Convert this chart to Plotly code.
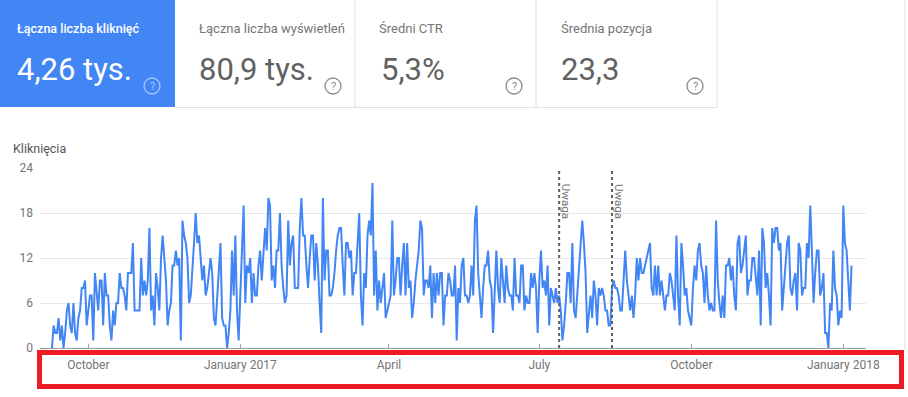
import pandas as pd
import plotly.graph_objects as go

# ---- data (daily clicks, in 5 consecutive stretches) ----
seg_starts = ["2016-09-09", "2016-12-14", "2017-03-24", "2017-07-02", "2017-10-10"]
seg1 = [0, 3, 2, 2, 4, 1, 3, 0, 2, 5, 6, 3, 2, 6, 2, 1, 4, 5, 8, 8, 9, 3, 5, 7, 7, 1, 10, 7, 5, 9,
        9, 3, 10, 7, 7, 3, 1, 5, 3, 6, 6, 10, 8, 8, 7, 5, 10, 10, 10, 14, 5, 5, 5, 5, 12, 7, 9, 7, 9, 16,
        5, 7, 3, 10, 8, 5, 12, 15, 12, 9, 3, 5, 6, 11, 11, 13, 11, 12, 1, 17, 15, 14, 12, 6, 7, 10, 14, 18, 14, 15,
        12, 9, 11, 7, 8]
seg2 = [12, 10, 4, 3, 7, 11, 14, 4, 3, 3, 0, 2, 5, 13, 7, 15, 5, 1, 7, 13, 19, 6, 11, 10, 12, 6, 10, 7, 7, 11,
        13, 9, 13, 16, 13, 20, 19, 9, 11, 8, 13, 13, 18, 11, 8, 6, 7, 17, 11, 14, 15, 8, 8, 8, 16, 20, 15, 15, 11, 8,
        12, 15, 15, 9, 14, 11, 6, 2, 20, 9, 13, 13, 7, 7, 8, 10, 13, 15, 16, 16, 11, 7, 14, 14, 12, 13, 7, 10, 10, 14,
        18, 7, 3, 10, 8, 15, 17, 15, 22, 7]
seg3 = [13, 5, 9, 6, 8, 10, 4, 5, 6, 7, 17, 7, 9, 12, 12, 7, 11, 14, 7, 14, 8, 9, 4, 6, 9, 11, 13, 17, 16, 7,
        9, 9, 8, 11, 4, 10, 6, 10, 7, 10, 10, 3, 7, 7, 10, 9, 7, 7, 11, 1, 8, 6, 11, 12, 7, 7, 6, 7, 11, 7,
        17, 19, 10, 7, 4, 8, 11, 11, 13, 9, 8, 2, 9, 13, 8, 6, 12, 9, 6, 11, 8, 7, 7, 5, 12, 7, 7, 6, 11, 11,
        5, 7, 6, 6, 10, 8, 10, 8, 2, 9]
seg4 = [13, 8, 9, 7, 11, 3, 8, 7, 6, 8, 6, 7, 5, 1, 3, 6, 10, 10, 6, 14, 5, 4, 7, 11, 14, 17, 14, 10, 2, 5,
        7, 4, 9, 7, 3, 8, 7, 8, 7, 5, 5, 3, 3, 8, 9, 8, 8, 7, 5, 5, 9, 13, 9, 7, 5, 7, 4, 7, 12, 9,
        12, 10, 10, 11, 12, 13, 14, 8, 7, 11, 7, 11, 7, 9, 7, 5, 7, 7, 10, 9, 7, 5, 15, 7, 3, 14, 11, 7, 8, 5,
        4, 3, 8, 11, 9, 13, 14, 11, 10, 6]
seg5 = [11, 7, 5, 6, 5, 5, 17, 9, 6, 4, 7, 4, 11, 11, 12, 9, 11, 7, 5, 14, 15, 10, 11, 13, 15, 7, 9, 9, 12, 12,
        9, 7, 13, 3, 16, 14, 8, 10, 7, 3, 16, 14, 16, 16, 13, 14, 5, 8, 11, 14, 15, 8, 7, 9, 10, 5, 14, 13, 7, 8,
        8, 14, 12, 19, 13, 6, 10, 13, 13, 7, 8, 10, 2, 2, 0, 6, 5, 13, 8, 7, 3, 5, 4, 19, 14, 13, 9, 5, 11]
segments = [seg1, seg2, seg3, seg4, seg5]

tick_dates = ["2016-10-01", "2017-01-01", "2017-04-01", "2017-07-01", "2017-10-01", "2018-01-01"]
tick_labels = ["October", "January 2017", "April", "July", "October", "January 2018"]
y_ticks = [0, 6, 12, 18, 24]
note_dates = ["2017-07-13", "2017-08-14"]
note_text = "Uwaga"

card_titles = ["Łączna liczba kliknięć", "Łączna liczba wyświetleń", "Średni CTR", "Średnia pozycja"]
card_values = ["4,26 tys.", "80,9 tys.", "5,3%", "23,3"]

dates, clicks = [], []
for start, vals in zip(seg_starts, segments):
    dates += list(pd.date_range(start, periods=len(vals), freq="D"))
    clicks += vals

# ---- layout geometry (pixels) ----
W, H = 908, 397
PL, PR, PT, PB = 40, 866, 168, 348


def px(x):
    return (x - PL) / (PR - PL)


def py(y):
    return (PB - y) / (PB - PT)


FONT = "Roboto"
fig = go.Figure()
fig.add_trace(go.Scatter(x=dates, y=clicks, mode="lines",
                         line=dict(color="#4285f4", width=2), hoverinfo="x+y",
                         showlegend=False))

shapes = []
annotations = []

# cards
shapes.append(dict(type="rect", xref="paper", yref="paper", x0=px(0), x1=px(175), y0=py(107), y1=py(0),
                   fillcolor="#4285f4", line=dict(width=0), layer="below"))
for xb in [355, 536, 717]:
    shapes.append(dict(type="line", xref="paper", yref="paper", x0=px(xb), x1=px(xb), y0=py(107), y1=py(0),
                       line=dict(color="#e0e0e0", width=1)))
shapes.append(dict(type="line", xref="paper", yref="paper", x0=px(175), x1=px(717), y0=py(107.5), y1=py(107.5),
                   line=dict(color="#e0e0e0", width=1)))
shapes.append(dict(type="line", xref="paper", yref="paper", x0=px(905), x1=px(905), y0=py(350), y1=py(0),
                   line=dict(color="#e0e0e0", width=1)))

title_x = [15, 197, 377, 559]
value_x = [15, 197, 379, 559]
help_x = [152, 333, 514, 695]
for i in range(4):
    tcol = "#ffffff" if i == 0 else "#757575"
    vcol = "#ffffff" if i == 0 else "#616161"
    hcol = "#a9c8fb" if i == 0 else "#8a8a8a"
    annotations.append(dict(text=card_titles[i], xref="paper", yref="paper", x=px(title_x[i]), y=py(28.5),
                            xanchor="left", yanchor="middle", showarrow=False,
                            font=dict(family=FONT, size=12.5 if i == 0 else 13, color=tcol,
                                      weight=500 if i == 0 else 400)))
    annotations.append(dict(text=card_values[i], xref="paper", yref="paper", x=px(value_x[i]), y=py(70),
                            xanchor="left", yanchor="middle", showarrow=False,
                            font=dict(family=FONT, size=31, color=vcol, weight=400)))
    shapes.append(dict(type="circle", xref="paper", yref="paper",
                       x0=px(help_x[i] - 8), x1=px(help_x[i] + 8), y0=py(94), y1=py(78),
                       line=dict(color=hcol, width=1.3)))
    annotations.append(dict(text="?", xref="paper", yref="paper", x=px(help_x[i]), y=py(86),
                            xanchor="center", yanchor="middle", showarrow=False,
                            font=dict(family=FONT, size=11, color=hcol)))

annotations.append(dict(text="Kliknięcia", xref="paper", yref="paper", x=px(11), y=py(148),
                        xanchor="left", yanchor="middle", showarrow=False,
                        font=dict(family=FONT, size=12.5, color="#555555")))

# notes
for d in note_dates:
    shapes.append(dict(type="line", xref="x", yref="paper", x0=d, x1=d, y0=0, y1=1,
                       line=dict(color="#616161", width=2, dash="3px,3px")))
    annotations.append(dict(text=note_text, xref="x", yref="paper", x=d, y=py(201), xshift=7,
                            xanchor="center", yanchor="middle", textangle=90, showarrow=False,
                            font=dict(family=FONT, size=11.5, color="#757575")))

# red highlight box
shapes.append(dict(type="rect", xref="paper", yref="paper", x0=px(39.5), x1=px(901.5), y0=py(386.5), y1=py(352.5),
                   line=dict(color="#ed1c24", width=5), fillcolor="rgba(0,0,0,0)"))

fig.update_layout(
    width=W, height=H,
    margin=dict(l=PL, r=W - PR, t=PT, b=H - PB, pad=0),
    paper_bgcolor="white", plot_bgcolor="white",
    font=dict(family=FONT, size=12, color="#757575"),
    shapes=shapes, annotations=annotations,
    xaxis=dict(range=["2016-09-01 18:00", "2018-01-14 18:00"], type="date",
               tickvals=tick_dates, ticktext=tick_labels, showgrid=False,
               showline=True, linecolor="#9e9e9e", linewidth=1,
               ticks="inside", ticklen=4, tickcolor="#9e9e9e",
               tickfont=dict(family=FONT, size=12, color="#757575"), ticklabelstandoff=6,
               zeroline=False, fixedrange=True),
    yaxis=dict(range=[0, 24], tickvals=y_ticks, showgrid=True, gridcolor="#e8e8e8", gridwidth=1,
               zeroline=False, showline=False, ticks="",
               tickfont=dict(family=FONT, size=12, color="#757575"), ticklabelstandoff=6,
               fixedrange=True),
    hovermode="closest",
)

fig.write_html("out.html")
